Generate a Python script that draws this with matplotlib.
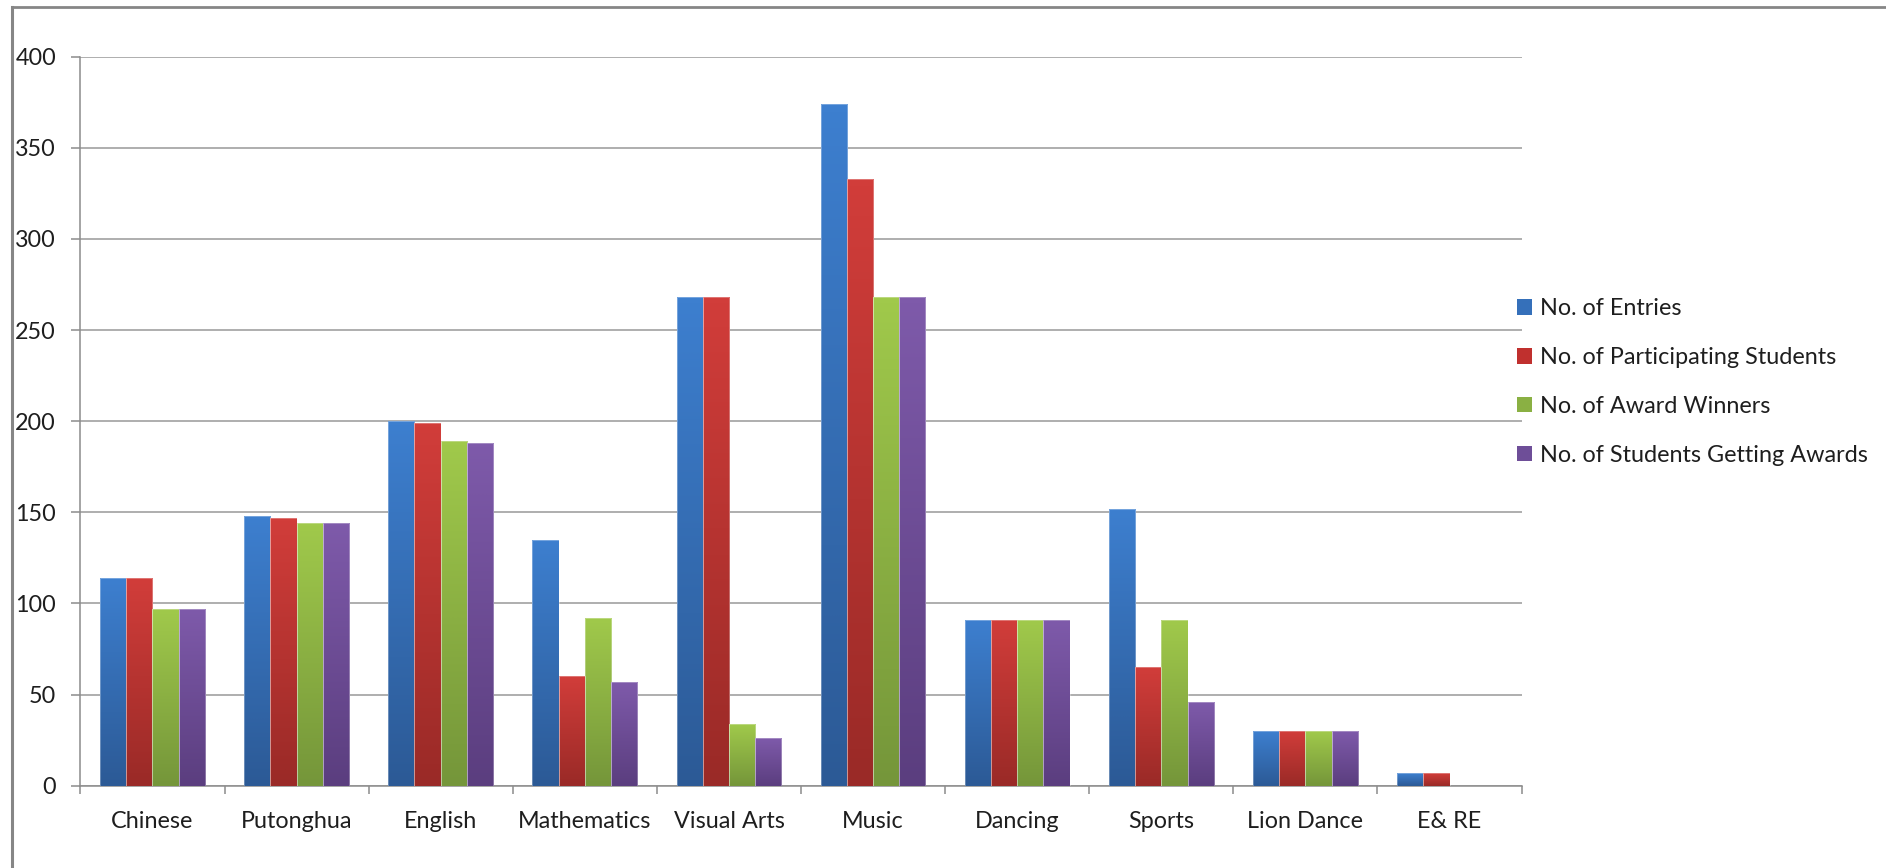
import matplotlib
matplotlib.use("Agg")
import matplotlib.pyplot as plt
import numpy as np
from matplotlib.colors import LinearSegmentedColormap
from matplotlib.lines import Line2D
from matplotlib.patches import Patch

categories = ['Chinese', 'Putonghua', 'English', 'Mathematics', 'Visual Arts',
              'Music', 'Dancing', 'Sports', 'Lion Dance', 'E& RE']
series_names = ['No. of Entries', 'No. of Participating Students',
                'No. of Award Winners', 'No. of Students Getting Awards']
entries = [114, 148, 200, 135, 268, 374, 91, 152, 30, 7]
participants = [114, 147, 199, 60, 268, 333, 91, 65, 30, 7]
award_winners = [97, 144, 189, 92, 34, 268, 91, 91, 30, 0]
students_awards = [97, 144, 188, 57, 26, 268, 91, 46, 30, 0]
yticks = [0, 50, 100, 150, 200, 250, 300, 350, 400]

grad_top = ['#3D7FCF', '#D13D3A', '#A0C94B', '#7E5AAA']
grad_bot = ['#2C5A96', '#9A2A27', '#75963A', '#5B3E7F']
legend_colors = ['#3570BA', '#C0302E', '#8AB043', '#6E4E98']

plt.rcParams['font.family'] = ['Lato', 'DejaVu Sans']
FS = 16.8
TXT = '#1E1E1E'
GRID = '#A8A8A8'

W, H = 1886, 868
fig = plt.figure(figsize=(W / 100, H / 100), dpi=100)
ax_l, ax_r, ax_t, ax_b = 80.4, 1521.6, 56.6, 785.7
ax = fig.add_axes([ax_l / W, 1 - ax_b / H, (ax_r - ax_l) / W, (ax_b - ax_t) / H])

data = [entries, participants, award_winners, students_awards]
n = len(categories)
bw = 1 / 5.5
x = np.arange(n)
for i, vals in enumerate(data):
    offs = (i - 1.5) * bw
    bars = ax.bar(x + offs, vals, width=bw, color='none', edgecolor='none', zorder=3)
    cmap = LinearSegmentedColormap.from_list('g%d' % i, [grad_bot[i], grad_top[i]])
    grad = np.linspace(0, 1, 64).reshape(-1, 1)
    for rect in bars:
        h = rect.get_height()
        if h <= 0:
            continue
        x0 = rect.get_x()
        im = ax.imshow(grad, cmap=cmap, origin='lower', aspect='auto',
                       extent=[x0, x0 + bw, 0, h], interpolation='bilinear', zorder=3)
        im.set_clip_path(rect)
        ax.add_patch(plt.Rectangle((x0, 0), bw, h, fill=False,
                                   edgecolor=(1, 1, 1, 0.35), lw=0.6, zorder=4))

ax.set_xlim(-0.5, n - 0.5)
ax.set_ylim(0, 400)
ax.set_yticks(yticks)
ax.set_yticklabels([str(v) for v in yticks])
ax.yaxis.grid(True, color=GRID, lw=1.3, zorder=0)
ax.set_axisbelow(True)

ax.set_xticks(x)
ax.set_xticklabels(categories)
ax.set_xticks(np.arange(n + 1) - 0.5, minor=True)
ax.tick_params(axis='x', which='major', length=0, pad=18, labelsize=FS, labelcolor=TXT)
ax.tick_params(axis='x', which='minor', length=5.5, width=1.1, color='#8C8C8C', direction='out')
ax.tick_params(axis='y', which='major', length=6.5, width=1.1, color='#8C8C8C',
               direction='out', pad=11, labelsize=FS, labelcolor=TXT)

for s in ['top', 'right']:
    ax.spines[s].set_visible(False)
for s in ['left', 'bottom']:
    ax.spines[s].set_color('#8C8C8C')
    ax.spines[s].set_linewidth(1.1)

handles = [Patch(facecolor=c, edgecolor='none') for c in legend_colors]
leg = fig.legend(handles, series_names, loc='center left',
                 bbox_to_anchor=(1516.7 / W, 1 - 382 / H), frameon=False,
                 fontsize=FS, handlelength=0.65, handleheight=0.65,
                 handletextpad=0.35, labelspacing=1.19, borderpad=0, borderaxespad=0)
for t in leg.get_texts():
    t.set_color(TXT)

# outer frame (top and left edges)
fig.add_artist(Line2D([12 / W, 1], [1 - 6.5 / H, 1 - 6.5 / H], transform=fig.transFigure,
                      color='#868686', lw=2.0))
fig.add_artist(Line2D([12 / W, 12 / W], [0, 1 - 6.5 / H], transform=fig.transFigure,
                      color='#868686', lw=2.2))

fig.savefig('out.png', dpi=100, facecolor='white')
